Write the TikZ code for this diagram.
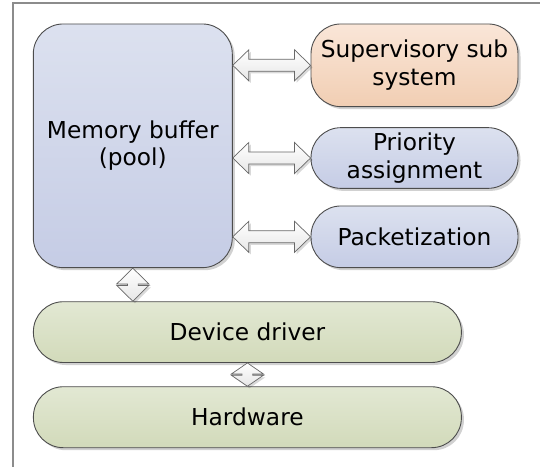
\documentclass[tikz,border=0pt]{standalone}
\usepackage{fontspec}
\setmainfont{DejaVu Sans}
\usetikzlibrary{calc,shadows}
\definecolor{memtop}{HTML}{DCE1EF}
\definecolor{membot}{HTML}{C5CCE5}
\definecolor{suptop}{HTML}{FAE6D8}
\definecolor{supbot}{HTML}{F1CEB3}
\definecolor{grntop}{HTML}{E2E8D3}
\definecolor{grnbot}{HTML}{D2DABA}
\definecolor{edge}{HTML}{4D4D4D}
\definecolor{arrbot}{HTML}{E6E6E6}
\definecolor{framec}{HTML}{8C8C8C}
\tikzset{
  box/.style={draw=edge, line width=0.9pt, rounded corners=30pt, align=center,
    font=\fontsize{23.3}{27.5}\selectfont, text=black, inner sep=0pt,
    drop shadow={shadow xshift=2.5pt, shadow yshift=-2.5pt, opacity=0.18, fill=black}},
  bluebox/.style={box, top color=memtop, bottom color=membot},
  peachbox/.style={box, top color=suptop, bottom color=supbot},
  greenbox/.style={box, top color=grntop, bottom color=grnbot},
  blockarrow/.style={draw=edge!85, line width=0.7pt, top color=white, bottom color=arrbot,
    drop shadow={shadow xshift=2pt, shadow yshift=-2pt, opacity=0.15, fill=black}}
}
\begin{document}
\begin{tikzpicture}[x=1pt,y=-1pt]
\useasboundingbox[fill=white] (0,0) rectangle (540,467);
\draw[framec, line width=1.2pt] (540,3) -- (13,3) -- (13,467);

\node[bluebox, minimum width=199pt, minimum height=243.7pt] (mem) at (132.8,145.8) {Memory buffer\\(pool)};
\node[peachbox, minimum width=207pt, minimum height=82.7pt] (sup) at (414.5,65.3) {Supervisory sub\\system};
\node[bluebox, minimum width=207pt, minimum height=60.7pt] (pri) at (414.5,158) {Priority\\assignment};
\node[bluebox, minimum width=207pt, minimum height=61.7pt] (pkt) at (414.5,236.8) {Packetization};
\node[greenbox, minimum width=428pt, minimum height=60.8pt] (dev) at (247.4,332.1) {Device driver};
\node[greenbox, minimum width=428pt, minimum height=61pt] (hw) at (247.4,417.2) {Hardware};

% horizontal double block arrows
\foreach \t in {sup,pri,pkt}{
  \path[blockarrow] let \p1=(mem.east |- \t.west), \p2=(\t.west) in
    (\p1) -- (\x1+16pt,\y1+15.5pt) -- (\x1+16pt,\y1+6pt) -- (\x2-16pt,\y1+6pt)
    -- (\x2-16pt,\y1+15.5pt) -- (\p2) -- (\x2-16pt,\y1-15.5pt) -- (\x2-16pt,\y1-6pt)
    -- (\x1+16pt,\y1-6pt) -- (\x1+16pt,\y1-15.5pt) -- cycle;
}

% vertical double block arrows
\path[blockarrow] let \p1=(mem.south), \p2=(mem.south |- dev.north) in
  (\p1) -- (\x1+16pt,\y1-15.8pt) -- (\x1+5.3pt,\y1-15.8pt) -- (\x1+5.3pt,\y2+15.8pt)
  -- (\x1+16pt,\y2+15.8pt) -- (\p2) -- (\x1-16pt,\y2+15.8pt) -- (\x1-5.3pt,\y2+15.8pt)
  -- (\x1-5.3pt,\y1-15.8pt) -- (\x1-16pt,\y1-15.8pt) -- cycle;
\path[blockarrow] let \p1=(dev.south), \p2=(hw.north) in
  (\p1) -- (\x1+16pt,\y1-11pt) -- (\x1+5.3pt,\y1-11pt) -- (\x1+5.3pt,\y2+11pt)
  -- (\x1+16pt,\y2+11pt) -- (\p2) -- (\x1-16pt,\y2+11pt) -- (\x1-5.3pt,\y2+11pt)
  -- (\x1-5.3pt,\y1-11pt) -- (\x1-16pt,\y1-11pt) -- cycle;
\end{tikzpicture}
\end{document}
